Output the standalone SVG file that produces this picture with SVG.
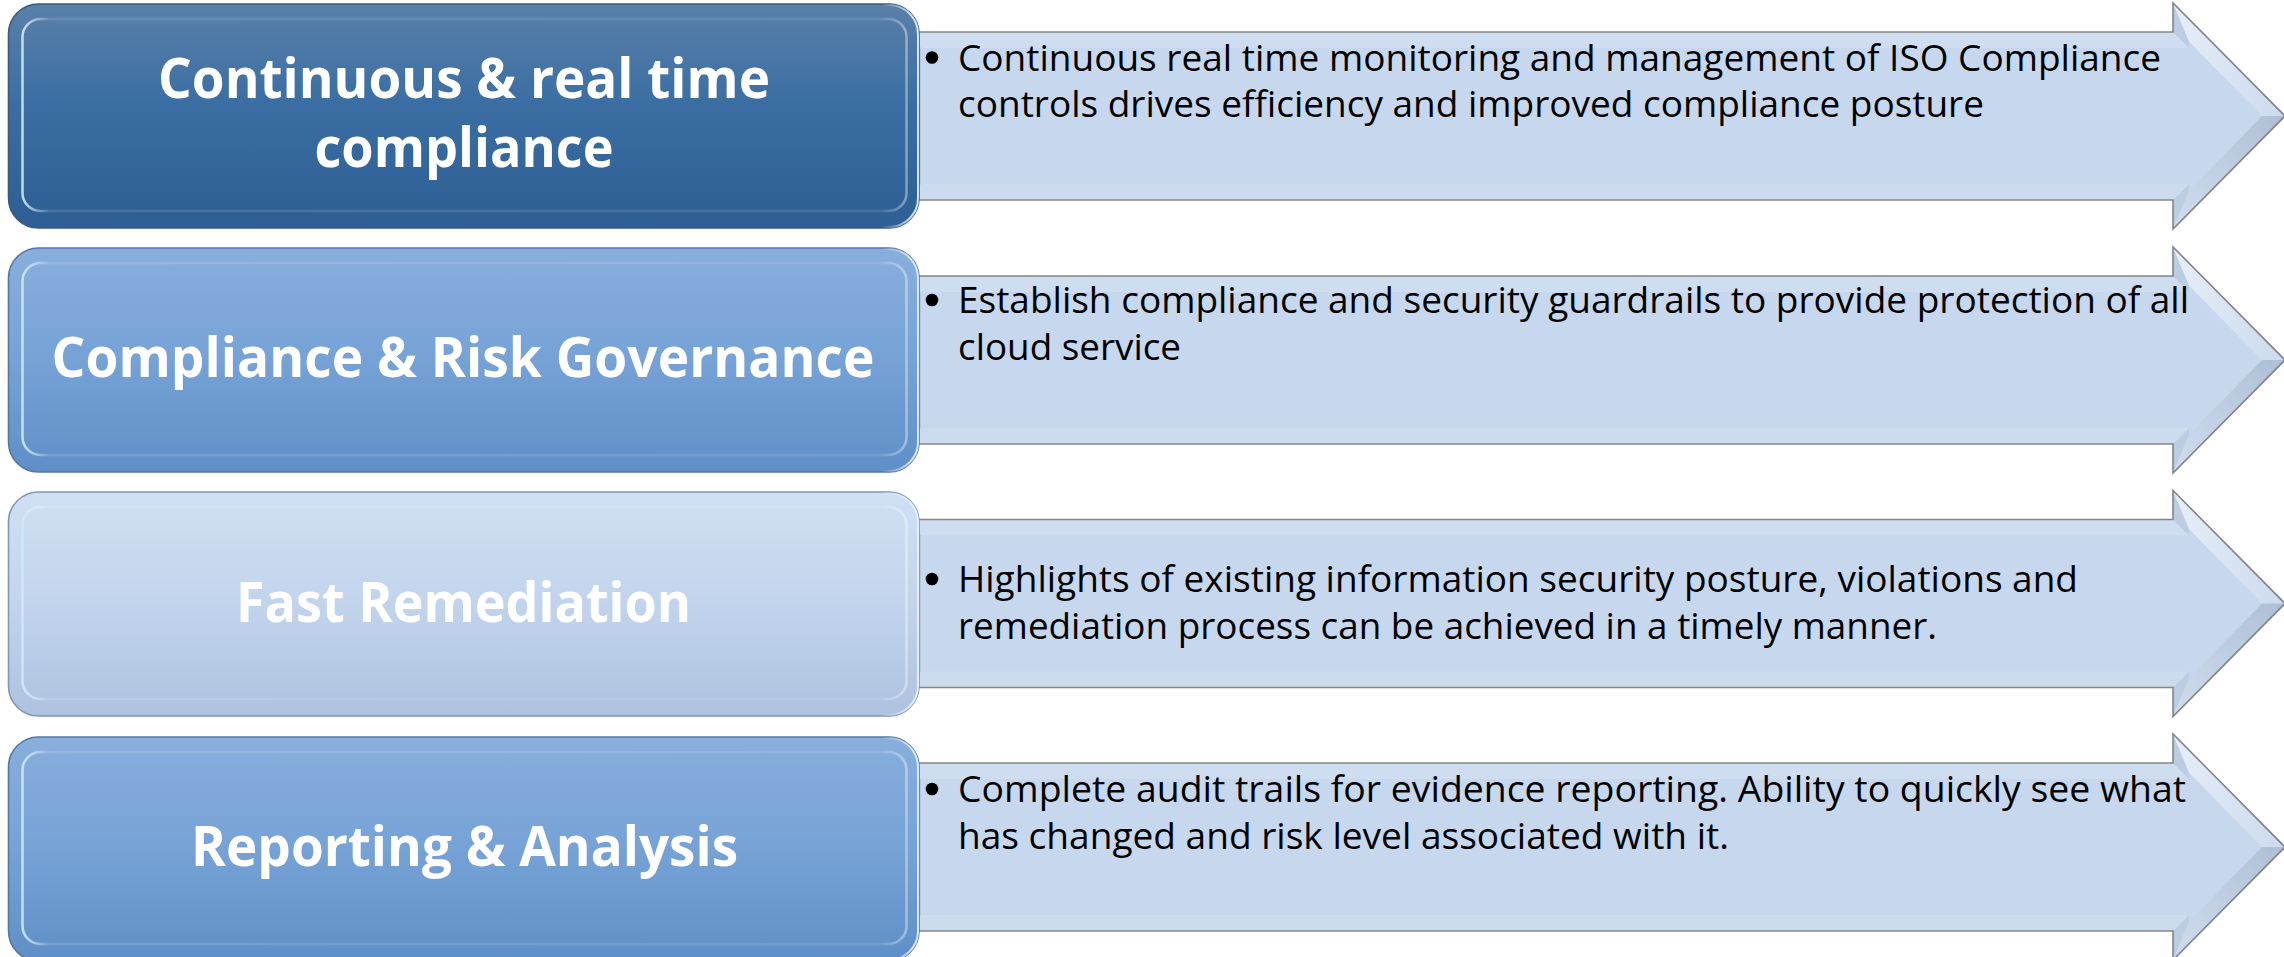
<svg xmlns="http://www.w3.org/2000/svg" xmlns:xlink="http://www.w3.org/1999/xlink" width="2284" height="957" viewBox="0 0 2284 957">
<style>
.face{fill:#c7d8ee}
.edge{fill:none;stroke:#858585;stroke-width:1.6;stroke-linejoin:miter}
.s-top{fill:#cfddf0}
.s-bc{fill:#bccde3}
.s-hu{fill:url(#hu)}
.s-hl{fill:url(#hl)}
.s-bot{fill:#cddbee}
.s-left{fill:url(#lf)}
.body{font-family:"Open Sans","Liberation Sans",sans-serif;font-size:36px;fill:#000}
.head{font-family:"Open Sans","Liberation Sans",sans-serif;font-size:55px;font-weight:700;fill:#fff;text-anchor:middle}
.box{stroke-width:1.6}
.rim{fill:none;stroke:url(#rim);stroke-width:2.5}
.rimo{fill:none;stroke:url(#rimo);stroke-width:2}
.bul{fill:#000}
</style>
<defs>
<linearGradient id="g1" x1="0" y1="0" x2="0" y2="1">
<stop offset="0" stop-color="#5a80a9"/>
<stop offset="0.45" stop-color="#3a6ea3"/>
<stop offset="1" stop-color="#2e5e93"/>
</linearGradient>
<linearGradient id="g2" x1="0" y1="0" x2="0" y2="1">
<stop offset="0" stop-color="#88afdc"/>
<stop offset="0.5" stop-color="#76a2d6"/>
<stop offset="1" stop-color="#5f8fc7"/>
</linearGradient>
<linearGradient id="g3" x1="0" y1="0" x2="0" y2="1">
<stop offset="0" stop-color="#d0dff3"/>
<stop offset="0.5" stop-color="#c2d4ec"/>
<stop offset="1" stop-color="#adc2df"/>
</linearGradient>
<linearGradient id="rim" x1="0" y1="0" x2="1" y2="0">
<stop offset="0" stop-color="#cfe8ff" stop-opacity="0.9"/>
<stop offset="0.03" stop-color="#ffffff" stop-opacity="0.12"/>
<stop offset="0.97" stop-color="#ffffff" stop-opacity="0.1"/>
<stop offset="1" stop-color="#ffffff" stop-opacity="0.4"/>
</linearGradient>
<linearGradient id="rimo" x1="0" y1="0" x2="1" y2="0">
<stop offset="0" stop-color="#ffffff" stop-opacity="0"/>
<stop offset="0.96" stop-color="#ffffff" stop-opacity="0"/>
<stop offset="0.995" stop-color="#e6f3ff" stop-opacity="0.9"/>
<stop offset="1" stop-color="#e6f3ff" stop-opacity="0.9"/>
</linearGradient>
<linearGradient id="hu" x1="0" y1="0" x2="1" y2="0">
<stop offset="0" stop-color="#e6eef8"/>
<stop offset="1" stop-color="#cbdaee"/>
</linearGradient>
<linearGradient id="hl" x1="0" y1="1" x2="1" y2="0">
<stop offset="0" stop-color="#d0ddef"/>
<stop offset="1" stop-color="#aebfd5"/>
</linearGradient>
<linearGradient id="lf" x1="0" y1="0" x2="1" y2="0">
<stop offset="0" stop-color="#9eadc1"/>
<stop offset="1" stop-color="#bac7d8"/>
</linearGradient>
<g id="arrowShape">
<polygon class="face" points="905,0 2173,0 2173,-29 2285,84 2173,197 2173,168 905,168"/>
<polygon class="s-top" points="905,0 2173,0 2189,16 921,16"/>
<polygon class="s-bc" points="2173,0 2173,-29 2189,9.6 2189,16"/>
<polygon class="s-hu" points="2173,-29 2285,84 2262,84 2189,9.6"/>
<polygon class="s-hl" points="2285,84 2173,197 2189,158.4 2262,84"/>
<polygon class="s-bc" points="2173,197 2173,168 2189,152 2189,158.4"/>
<polygon class="s-bot" points="2173,168 905,168 921,152 2189,152"/>
<polygon class="s-left" points="905,168 905,0 921,16 921,152"/>
<polygon class="edge" points="905,0 2173,0 2173,-29 2285,84 2173,197 2173,168 905,168"/>
</g>
</defs>

<g id="arrow-1">
<use xlink:href="#arrowShape" y="32"/>
<circle class="bul" cx="932" cy="57.5" r="6.3"/>
<text class="body" x="958" y="70.5" textLength="1203" lengthAdjust="spacingAndGlyphs">Continuous real time monitoring and management of ISO Compliance</text>
<text class="body" x="958" y="117" textLength="1026" lengthAdjust="spacingAndGlyphs">controls drives efficiency and improved compliance posture</text>
</g>
<g id="arrow-2">
<use xlink:href="#arrowShape" y="276"/>
<circle class="bul" cx="932" cy="300" r="6.3"/>
<text class="body" x="958" y="313" textLength="1231" lengthAdjust="spacingAndGlyphs">Establish compliance and security guardrails to provide protection of all</text>
<text class="body" x="958" y="360" textLength="223" lengthAdjust="spacingAndGlyphs">cloud service</text>
</g>
<g id="arrow-3">
<use xlink:href="#arrowShape" y="519.5"/>
<circle class="bul" cx="932" cy="579" r="6.3"/>
<text class="body" x="958" y="592" textLength="1120" lengthAdjust="spacingAndGlyphs">Highlights of existing information security posture, violations and</text>
<text class="body" x="958" y="639" textLength="979" lengthAdjust="spacingAndGlyphs">remediation process can be achieved in a timely manner.</text>
</g>
<g id="arrow-4">
<use xlink:href="#arrowShape" y="763"/>
<circle class="bul" cx="932" cy="789" r="6.3"/>
<text class="body" x="958" y="802" textLength="1228" lengthAdjust="spacingAndGlyphs">Complete audit trails for evidence reporting. Ability to quickly see what</text>
<text class="body" x="958" y="849" textLength="771" lengthAdjust="spacingAndGlyphs">has changed and risk level associated with it.</text>
</g>

<g id="connectors"></g>

<g id="box-1">
<rect class="box" x="8.5" y="4" width="910.5" height="224" rx="30" fill="url(#g1)" stroke="#3c5a7e"/>
<rect class="rim" x="22.5" y="19" width="884" height="192" rx="18"/>
<rect class="rimo" x="9.5" y="5" width="908.5" height="222" rx="29"/>
<text class="head" x="464" y="98" textLength="612" lengthAdjust="spacingAndGlyphs">Continuous &amp; real time</text>
<text class="head" x="464" y="167" textLength="299" lengthAdjust="spacingAndGlyphs">compliance</text>
</g>
<g id="box-2">
<rect class="box" x="8.5" y="248" width="910.5" height="224" rx="30" fill="url(#g2)" stroke="#5477a4"/>
<rect class="rim" x="22.5" y="263" width="884" height="192" rx="18"/>
<rect class="rimo" x="9.5" y="249" width="908.5" height="222" rx="29"/>
<text class="head" x="463" y="377" textLength="823" lengthAdjust="spacingAndGlyphs">Compliance &amp; Risk Governance</text>
</g>
<g id="box-3">
<rect class="box" x="8.5" y="492" width="910.5" height="224" rx="30" fill="url(#g3)" stroke="#8397b3"/>
<rect class="rim" x="22.5" y="507" width="884" height="192" rx="18"/>
<rect class="rimo" x="9.5" y="493" width="908.5" height="222" rx="29"/>
<text class="head" x="463.5" y="622" textLength="455" lengthAdjust="spacingAndGlyphs">Fast Remediation</text>
</g>
<g id="box-4">
<rect class="box" x="8.5" y="737" width="910.5" height="224" rx="30" fill="url(#g2)" stroke="#5477a4"/>
<rect class="rim" x="22.5" y="752" width="884" height="192" rx="18"/>
<rect class="rimo" x="9.5" y="738" width="908.5" height="222" rx="29"/>
<text class="head" x="464.5" y="866" textLength="547" lengthAdjust="spacingAndGlyphs">Reporting &amp; Analysis</text>
</g>
</svg>
